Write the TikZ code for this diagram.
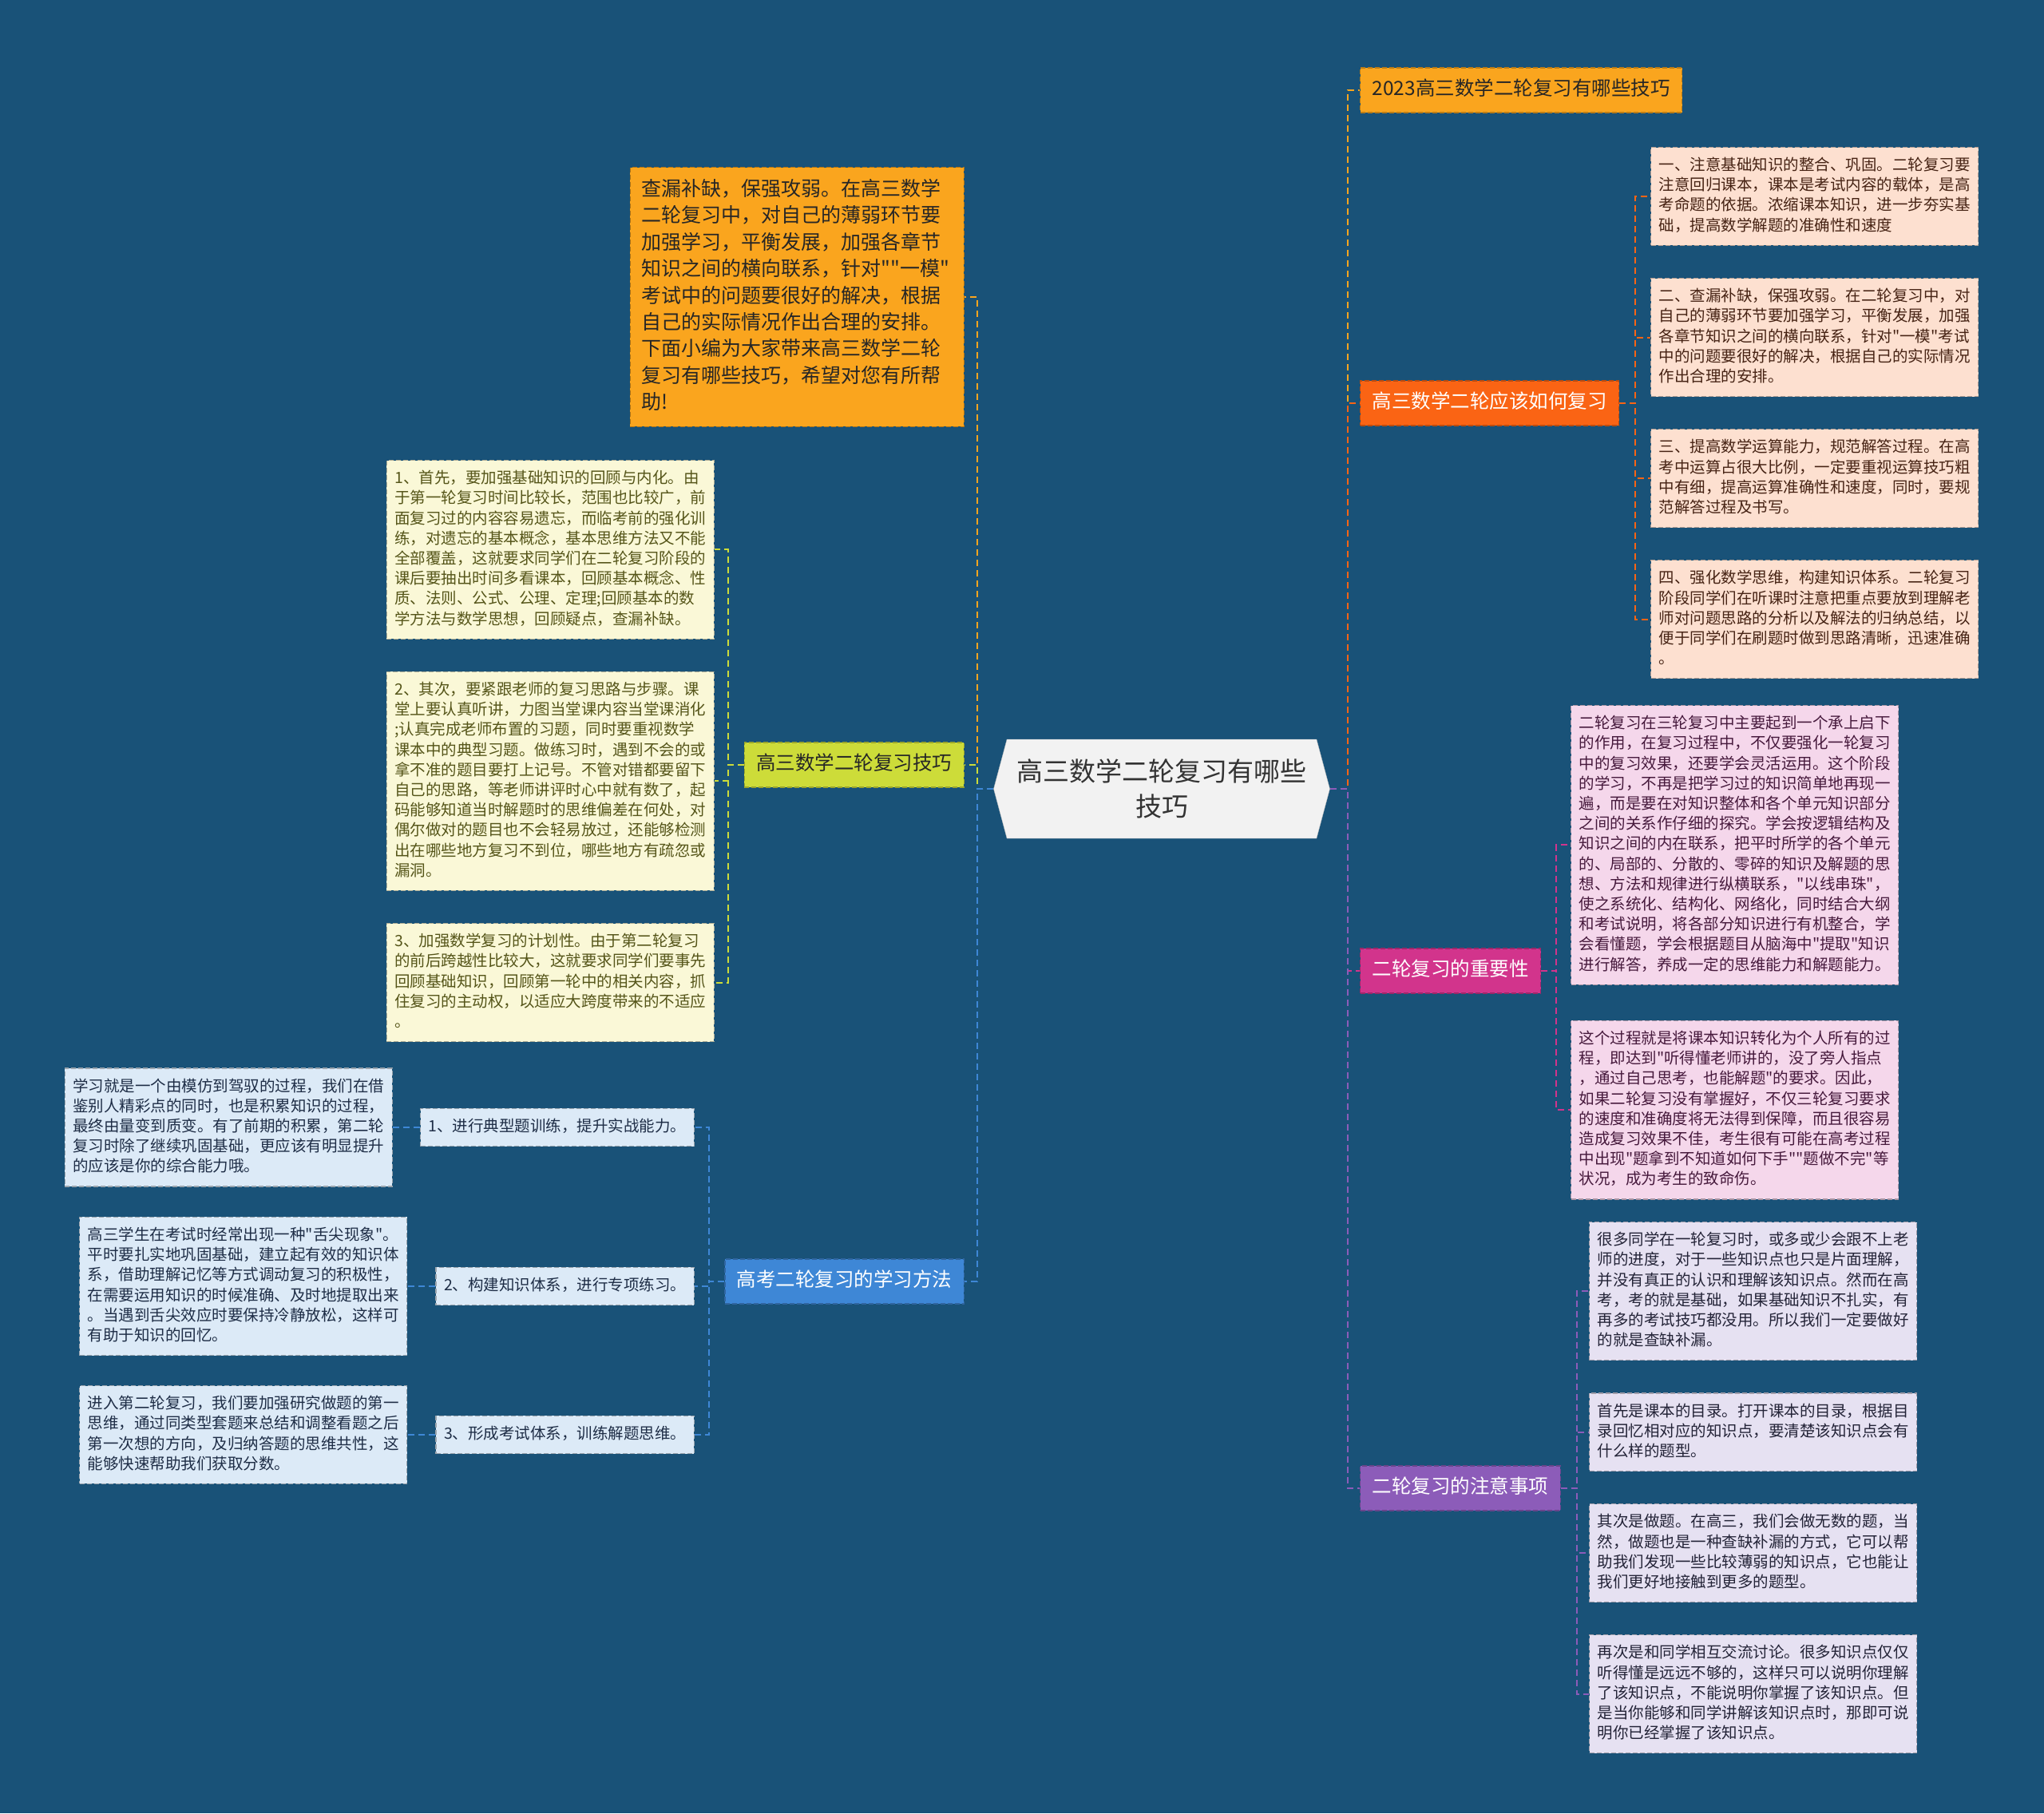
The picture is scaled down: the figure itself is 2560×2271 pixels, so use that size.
\documentclass[tikz,border=0pt]{standalone}
\usepackage{fontspec}
\newfontfamily\cjkfont{Noto Sans CJK SC}
\usepackage{tikz}
\usetikzlibrary{positioning, shapes.symbols}
\definecolor{mapbg}{RGB}{25,82,120}
\definecolor{introorange}{RGB}{250,165,30}
\definecolor{howred}{RGB}{250,100,20}
\definecolor{tiplime}{RGB}{205,220,57}
\definecolor{methodblue}{RGB}{62,135,214}
\definecolor{keymagenta}{RGB}{210,52,140}
\definecolor{notepurple}{RGB}{140,92,185}
\definecolor{creambox}{RGB}{250,248,215}
\definecolor{skybox}{RGB}{220,234,247}
\definecolor{peachbox}{RGB}{253,224,208}
\definecolor{pinkbox}{RGB}{245,215,235}
\definecolor{lilacbox}{RGB}{230,225,242}
\definecolor{olivetext}{RGB}{85,85,25}
\definecolor{navytext}{RGB}{30,45,70}
\definecolor{browntext}{RGB}{70,35,20}
\definecolor{plumtext}{RGB}{70,25,60}
\definecolor{slatetext}{RGB}{35,35,55}
\newcommand\bxstrut{\rule[-.286\baselineskip]{0pt}{\baselineskip}}
\newcommand\mapfont[2]{\cjkfont\fontsize{#1}{#2}\selectfont}

\begin{document}
\begin{tikzpicture}[x=1pt, y=-1pt, node distance=40pt,
  every node/.style={font=\mapfont{19.5}{25.2}},
  box/.style={draw=#1!70!black, fill=#1, line width=1.2pt, dash pattern=on 6pt off 3pt,
    inner xsep=10pt, inner ysep=11pt, execute at begin node=\bxstrut, execute at end node=\bxstrut},
  leaf/.style={box=#1, text width=390pt, align=left},
  branch/.style={draw=#1!75!black, fill=#1, line width=1.2pt, dash pattern=on 6pt off 3pt,
    font=\mapfont{24.5}{30}, inner xsep=15pt, inner ysep=0pt,
    text height=19pt, text depth=6pt, minimum height=56pt},
  link/.style={draw=#1, line width=2pt, dash pattern=on 8pt off 5pt}]

  \fill[mapbg] (0,0) rectangle (2560,2271);

  % centre
  \node[signal, signal to=west and east, signal pointer angle=150, fill=black!5, draw=black!25,
    minimum width=421pt, minimum height=124pt, align=center, text=black!80,
    font=\mapfont{33}{44}] (c) at (1455,988) {高三数学二轮复习有哪些\\技巧};

  % left side
  \node[leaf=introorange, text=black!85, font=\mapfont{25}{33.4},
    inner xsep=14pt, inner ysep=12pt, anchor=north east] (i0) at (1208,209)
    {查漏补缺，保强攻弱。在高三数学\\二轮复习中，对自己的薄弱环节要\\加强学习，平衡发展，加强各章节\\知识之间的横向联系，针对""一模"\\考试中的问题要很好的解决，根据\\自己的实际情况作出合理的安排。\\下面小编为大家带来高三数学二轮\\复习有哪些技巧，希望对您有所帮\\助!};
  \node[branch=tiplime, text=black!85, anchor=east] (y0) at (1208,958) {高三数学二轮复习技巧};
  \node[branch=methodblue, text=white, anchor=east] (m0) at (1208,1605) {高考二轮复习的学习方法};

  \node[leaf=creambox, text=olivetext, anchor=north east] (y1) at (895,576)
    {1、首先，要加强基础知识的回顾与内化。由\\于第一轮复习时间比较长，范围也比较广，前\\面复习过的内容容易遗忘，而临考前的强化训\\练，对遗忘的基本概念，基本思维方法又不能\\全部覆盖，这就要求同学们在二轮复习阶段的\\课后要抽出时间多看课本，回顾基本概念、性\\质、法则、公式、公理、定理;回顾基本的数\\学方法与数学思想，回顾疑点，查漏补缺。};
  \node[leaf=creambox, text=olivetext, below=of y1] (y2)
    {2、其次，要紧跟老师的复习思路与步骤。课\\堂上要认真听讲，力图当堂课内容当堂课消化\\;认真完成老师布置的习题，同时要重视数学\\课本中的典型习题。做练习时，遇到不会的或\\拿不准的题目要打上记号。不管对错都要留下\\自己的思路，等老师讲评时心中就有数了，起\\码能够知道当时解题时的思维偏差在何处，对\\偶尔做对的题目也不会轻易放过，还能够检测\\出在哪些地方复习不到位，哪些地方有疏忽或\\漏洞。};
  \node[leaf=creambox, text=olivetext, below=of y2] (y3)
    {3、加强数学复习的计划性。由于第二轮复习\\的前后跨越性比较大，这就要求同学们要事先\\回顾基础知识，回顾第一轮中的相关内容，抓\\住复习的主动权，以适应大跨度带来的不适应\\。};

  \node[box=skybox, text=navytext, anchor=east] (m1) at (870,1412) {1、进行典型题训练，提升实战能力。};
  \node[box=skybox, text=navytext, anchor=east] (m2) at (870,1611) {2、构建知识体系，进行专项练习。};
  \node[box=skybox, text=navytext, anchor=east] (m3) at (870,1797) {3、形成考试体系，训练解题思维。};
  \node[leaf=skybox, text=navytext, left=34pt of m1] (d1)
    {学习就是一个由模仿到驾驭的过程，我们在借\\鉴别人精彩点的同时，也是积累知识的过程，\\最终由量变到质变。有了前期的积累，第二轮\\复习时除了继续巩固基础，更应该有明显提升\\的应该是你的综合能力哦。};
  \node[leaf=skybox, text=navytext, left=35pt of m2] (d2)
    {高三学生在考试时经常出现一种"舌尖现象"。\\平时要扎实地巩固基础，建立起有效的知识体\\系，借助理解记忆等方式调动复习的积极性，\\在需要运用知识的时候准确、及时地提取出来\\。当遇到舌尖效应时要保持冷静放松，这样可\\有助于知识的回忆。};
  \node[leaf=skybox, text=navytext, left=35pt of m3] (d3)
    {进入第二轮复习，我们要加强研究做题的第一\\思维，通过同类型套题来总结和调整看题之后\\第一次想的方向，及归纳答题的思维共性，这\\能够快速帮助我们获取分数。};

  % right side
  \node[branch=introorange, text=black!85, anchor=west] (t1) at (1703,113) {2023高三数学二轮复习有哪些技巧};
  \node[branch=howred, text=white, anchor=west] (r0) at (1703,505) {高三数学二轮应该如何复习};
  \node[branch=keymagenta, text=white, anchor=west] (p0) at (1703,1216) {二轮复习的重要性};
  \node[branch=notepurple, text=white, anchor=west] (v0) at (1703,1864) {二轮复习的注意事项};

  \node[leaf=peachbox, text=browntext, anchor=north west] (r1) at (2067,184)
    {一、注意基础知识的整合、巩固。二轮复习要\\注意回归课本，课本是考试内容的载体，是高\\考命题的依据。浓缩课本知识，进一步夯实基\\础，提高数学解题的准确性和速度};
  \node[leaf=peachbox, text=browntext, below=of r1] (r2)
    {二、查漏补缺，保强攻弱。在二轮复习中，对\\自己的薄弱环节要加强学习，平衡发展，加强\\各章节知识之间的横向联系，针对"一模"考试\\中的问题要很好的解决，根据自己的实际情况\\作出合理的安排。};
  \node[leaf=peachbox, text=browntext, below=of r2] (r3)
    {三、提高数学运算能力，规范解答过程。在高\\考中运算占很大比例，一定要重视运算技巧粗\\中有细，提高运算准确性和速度，同时，要规\\范解答过程及书写。};
  \node[leaf=peachbox, text=browntext, below=of r3] (r4)
    {四、强化数学思维，构建知识体系。二轮复习\\阶段同学们在听课时注意把重点要放到理解老\\师对问题思路的分析以及解法的归纳总结，以\\便于同学们在刷题时做到思路清晰，迅速准确\\。};

  \node[leaf=pinkbox, text=plumtext, anchor=north west] (p1) at (1967,883)
    {二轮复习在三轮复习中主要起到一个承上启下\\的作用，在复习过程中，不仅要强化一轮复习\\中的复习效果，还要学会灵活运用。这个阶段\\的学习，不再是把学习过的知识简单地再现一\\遍，而是要在对知识整体和各个单元知识部分\\之间的关系作仔细的探究。学会按逻辑结构及\\知识之间的内在联系，把平时所学的各个单元\\的、局部的、分散的、零碎的知识及解题的思\\想、方法和规律进行纵横联系，"以线串珠"，\\使之系统化、结构化、网络化，同时结合大纲\\和考试说明，将各部分知识进行有机整合，学\\会看懂题，学会根据题目从脑海中"提取"知识\\进行解答，养成一定的思维能力和解题能力。};
  \node[leaf=pinkbox, text=plumtext, below=44pt of p1] (p2)
    {这个过程就是将课本知识转化为个人所有的过\\程，即达到"听得懂老师讲的，没了旁人指点\\，通过自己思考，也能解题"的要求。因此，\\如果二轮复习没有掌握好，不仅三轮复习要求\\的速度和准确度将无法得到保障，而且很容易\\造成复习效果不佳，考生很有可能在高考过程\\中出现"题拿到不知道如何下手""题做不完"等\\状况，成为考生的致命伤。};

  \node[leaf=lilacbox, text=slatetext, anchor=north west] (v1) at (1990,1530)
    {很多同学在一轮复习时，或多或少会跟不上老\\师的进度，对于一些知识点也只是片面理解，\\并没有真正的认识和理解该知识点。然而在高\\考，考的就是基础，如果基础知识不扎实，有\\再多的考试技巧都没用。所以我们一定要做好\\的就是查缺补漏。};
  \node[leaf=lilacbox, text=slatetext, below=of v1] (v2)
    {首先是课本的目录。打开课本的目录，根据目\\录回忆相对应的知识点，要清楚该知识点会有\\什么样的题型。};
  \node[leaf=lilacbox, text=slatetext, below=of v2] (v3)
    {其次是做题。在高三，我们会做无数的题，当\\然，做题也是一种查缺补漏的方式，它可以帮\\助我们发现一些比较薄弱的知识点，它也能让\\我们更好地接触到更多的题型。};
  \node[leaf=lilacbox, text=slatetext, below=of v3] (v4)
    {再次是和同学相互交流讨论。很多知识点仅仅\\听得懂是远远不够的，这样只可以说明你理解\\了该知识点，不能说明你掌握了该知识点。但\\是当你能够和同学讲解该知识点时，那即可说\\明你已经掌握了该知识点。};

  % connectors
  \draw[link=introorange] (c.west) -- ++(-20,0) |- (i0.east);
  \draw[link=tiplime] (c.west) -- ++(-20,0) |- (y0.east);
  \draw[link=methodblue] (c.west) -- ++(-20,0) |- (m0.east);
  \foreach \n in {y1,y2,y3}
    \draw[link=tiplime] (y0.west) -- ++(-20,0) |- (\n.east);
  \foreach \n in {1,2,3} {
    \draw[link=methodblue] (m0.west) -- ++(-19,0) |- (m\n.east);
    \draw[link=methodblue] (m\n.west) -- (d\n.east);
  }
  \draw[link=introorange] (c.east) -- ++(22,0) |- (t1.west);
  \draw[link=howred] (c.east) -- ++(22,0) |- (r0.west);
  \draw[link=keymagenta] (c.east) -- ++(22,0) |- (p0.west);
  \draw[link=notepurple] (c.east) -- ++(22,0) |- (v0.west);
  \foreach \n in {r1,r2,r3,r4}
    \draw[link=howred] (r0.east) -- ++(20,0) |- (\n.west);
  \foreach \n in {p1,p2}
    \draw[link=keymagenta] (p0.east) -- ++(19,0) |- (\n.west);
  \foreach \n in {v1,v2,v3,v4}
    \draw[link=notepurple] (v0.east) -- ++(20,0) |- (\n.west);
\end{tikzpicture}
\end{document}
